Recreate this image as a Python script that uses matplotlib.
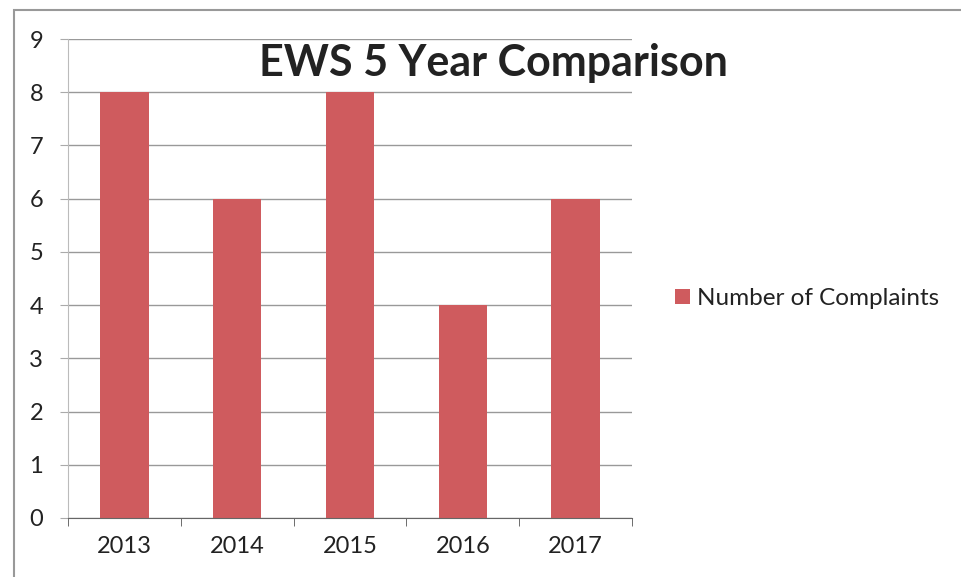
import matplotlib.pyplot as plt
import matplotlib.patches as patches
import numpy as np

years = ['2013', '2014', '2015', '2016', '2017']
complaints = [8, 6, 8, 4, 6]
y_ticks = list(range(0, 10))

plt.rcParams['font.family'] = ['Lato', 'DejaVu Sans']

fig = plt.figure(figsize=(9.61, 5.77), dpi=100)
ax = fig.add_axes([0.0708, 0.1023, 0.5869, 0.8301])

x = np.arange(len(years))
bars = ax.bar(x, complaints, width=0.43, color='#cf5b5e', zorder=3,
              label='Number of Complaints')

ax.set_xlim(-0.5, len(years) - 0.5)
ax.set_ylim(0, 9)
ax.set_yticks(y_ticks)
ax.set_xticks(x)
ax.set_xticklabels(years)
ax.set_xticks(np.arange(-0.5, len(years)), minor=True)
ax.tick_params(axis='x', which='major', length=0, pad=13, labelsize=17, labelcolor='#222222')
ax.tick_params(axis='x', which='minor', length=6, color='#555555', direction='out')
ax.tick_params(axis='y', length=6, color='#aaaaaa', pad=12, labelsize=17, labelcolor='#222222')

ax.grid(axis='y', color='#999999', linewidth=1, zorder=0)
for side in ('top', 'right'):
    ax.spines[side].set_visible(False)
ax.spines['left'].set_color('#bbbbbb')
ax.spines['bottom'].set_color('#666666')
ax.spines['bottom'].set_zorder(4)

fig.text(0.513, 0.891, 'EWS 5 Year Comparison', ha='center', va='center',
         fontsize=31, fontweight='bold', color='#222222')

fig.legend(handles=[bars], loc='center left', bbox_to_anchor=(0.68, 0.483),
           frameon=False, fontsize=17.5, handlelength=0.6, handleheight=0.6,
           handletextpad=0.3, labelcolor='#222222')

# outer chart border
fig.patches.append(patches.Rectangle((0.0146, -0.2), 1.2, 1.1827, transform=fig.transFigure,
                                     fill=False, edgecolor='#999999', linewidth=1.5))

fig.savefig('out.png', dpi=100, facecolor='white')
